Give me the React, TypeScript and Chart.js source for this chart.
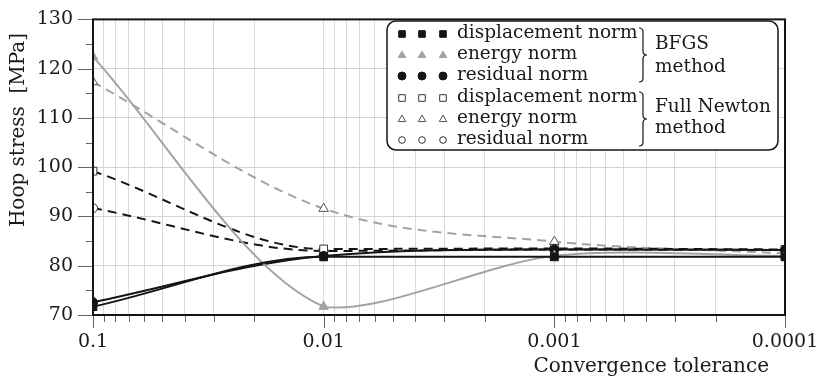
import React, { useEffect, useRef } from 'react';
import { Chart, registerables } from 'chart.js';

Chart.register(...registerables);

// ---- data ----
const tolerances = [0.1, 0.01, 0.001, 0.0001];
const bfgsDisplacement = [71.7, 81.8, 81.8, 81.8];
const bfgsEnergy = [122.4, 71.7, 82.0, 82.0];
const bfgsResidual = [72.6, 82.0, 83.3, 83.2];
const newtonDisplacement = [99.2, 83.4, 83.5, 83.3];
const newtonEnergy = [117.3, 91.6, 84.9, 82.5];
const newtonResidual = [91.7, 83.0, 83.3, 83.2];
const xDecades = [0.1, 0.01, 0.001, 0.0001];
const xDecadeLabels = ['0.1', '0.01', '0.001', '0.0001'];
const yMin = 70;
const yMax = 130;
const legendLabels = ['displacement norm', 'energy norm', 'residual norm', 'displacement norm', 'energy norm', 'residual norm'];
const methodLabels = [['BFGS', 'method'], ['Full Newton', 'method']];
const xTitle = 'Convergence tolerance';
const yTitle = 'Hoop stress  [MPa]';

const FONT = "'DejaVu Serif', serif";
const BLACK = '#151515';
const GRAY = '#a3a3a3';

const pts = (ys: number[]) => ys.map((y, i) => ({ x: tolerances[i], y }));

const minorTicks: number[] = (() => {
  const out: number[] = [];
  for (let n = -4; n <= -2; n++) {
    for (let k = 1; k <= 9; k++) out.push(parseFloat((k * Math.pow(10, n)).toPrecision(6)));
  }
  out.push(0.1);
  return out;
})();

const isDecade = (v: number) => xDecades.some((d) => Math.abs(v - d) / d < 1e-6);

type Marker = { style: string; fill: string; stroke: string };
const markers: Marker[] = [
  { style: 'rect', fill: BLACK, stroke: BLACK },
  { style: 'triangle', fill: GRAY, stroke: GRAY },
  { style: 'circle', fill: BLACK, stroke: BLACK },
  { style: 'rect', fill: '#ffffff', stroke: '#333' },
  { style: 'triangle', fill: '#ffffff', stroke: '#555' },
  { style: 'circle', fill: '#ffffff', stroke: '#333' },
];

function drawMarker(ctx: CanvasRenderingContext2D, m: Marker, x: number, y: number, r: number) {
  ctx.beginPath();
  if (m.style === 'rect') {
    ctx.rect(x - r, y - r, 2 * r, 2 * r);
  } else if (m.style === 'triangle') {
    const h = r * 1.2;
    ctx.moveTo(x, y - h);
    ctx.lineTo(x + h * 0.95, y + h * 0.65);
    ctx.lineTo(x - h * 0.95, y + h * 0.65);
    ctx.closePath();
  } else {
    ctx.arc(x, y, r, 0, Math.PI * 2);
  }
  ctx.fillStyle = m.fill;
  ctx.fill();
  ctx.lineWidth = 1;
  ctx.strokeStyle = m.stroke;
  ctx.stroke();
}

function drawBrace(ctx: CanvasRenderingContext2D, x: number, y1: number, y2: number, w: number) {
  const mid = (y1 + y2) / 2;
  const r = 4;
  const xm = x + w * 0.5;
  ctx.beginPath();
  ctx.moveTo(x, y1);
  ctx.quadraticCurveTo(xm, y1, xm, y1 + r);
  ctx.lineTo(xm, mid - r);
  ctx.quadraticCurveTo(xm, mid, x + w, mid);
  ctx.quadraticCurveTo(xm, mid, xm, mid + r);
  ctx.lineTo(xm, y2 - r);
  ctx.quadraticCurveTo(xm, y2, x, y2);
  ctx.lineWidth = 1.2;
  ctx.strokeStyle = BLACK;
  ctx.stroke();
}

const decorPlugin = {
  id: 'decor',
  afterDraw(chart: any) {
    const ctx: CanvasRenderingContext2D = chart.ctx;
    const { left, right, top, bottom } = chart.chartArea;
    const xs = chart.scales.x;
    const ys = chart.scales.y;
    ctx.save();
    // tick marks
    ctx.strokeStyle = '#666';
    ctx.lineWidth = 1;
    minorTicks.forEach((v) => {
      const px = Math.round(xs.getPixelForValue(v)) + 0.5;
      const len = isDecade(v) ? 13 : 7;
      ctx.beginPath();
      ctx.moveTo(px, bottom);
      ctx.lineTo(px, bottom + len);
      ctx.stroke();
    });
    for (let v = yMin; v <= yMax; v += 5) {
      const py = Math.round(ys.getPixelForValue(v)) + 0.5;
      const len = v % 10 === 0 ? 15 : 7;
      ctx.beginPath();
      ctx.moveTo(left - len, py);
      ctx.lineTo(left, py);
      ctx.stroke();
    }
    // frame
    ctx.strokeStyle = BLACK;
    ctx.lineWidth = 2;
    ctx.strokeRect(left, top, right - left, bottom - top);

    // axis titles
    ctx.fillStyle = '#1a1a1a';
    ctx.font = `20px ${FONT}`;
    ctx.textAlign = 'right';
    ctx.textBaseline = 'middle';
    ctx.fillText(xTitle, right - 16, 367);
    ctx.save();
    ctx.translate(19, 130);
    ctx.rotate(-Math.PI / 2);
    ctx.textAlign = 'center';
    ctx.fillText(yTitle, 0, 0);
    ctx.restore();

    // legend box
    const bx = 387, by = 21, bw = 391, bh = 129, br = 9;
    ctx.beginPath();
    ctx.moveTo(bx + br, by);
    ctx.arcTo(bx + bw, by, bx + bw, by + bh, br);
    ctx.arcTo(bx + bw, by + bh, bx, by + bh, br);
    ctx.arcTo(bx, by + bh, bx, by, br);
    ctx.arcTo(bx, by, bx + bw, by, br);
    ctx.closePath();
    ctx.fillStyle = '#ffffff';
    ctx.fill();
    ctx.lineWidth = 1.5;
    ctx.strokeStyle = BLACK;
    ctx.stroke();

    const rowY = [33, 54, 75, 97, 118, 139];
    const mx = [402, 422, 443];
    ctx.font = `18.5px ${FONT}`;
    ctx.textAlign = 'left';
    ctx.textBaseline = 'middle';
    legendLabels.forEach((lab, i) => {
      mx.forEach((x) => drawMarker(ctx, markers[i], x, rowY[i] + 1, i === 2 ? 4 : 3.3));
      ctx.fillStyle = '#1a1a1a';
      ctx.fillText(lab, 457, rowY[i]);
    });
    drawBrace(ctx, 639, 28, 82, 8);
    drawBrace(ctx, 639, 92, 146, 8);
    ctx.fillStyle = '#1a1a1a';
    ctx.fillText(methodLabels[0][0], 655, 44);
    ctx.fillText(methodLabels[0][1], 655, 67);
    ctx.fillText(methodLabels[1][0], 655, 107);
    ctx.fillText(methodLabels[1][1], 655, 128);
    ctx.restore();
  },
};

export default function App() {
  const ref = useRef<HTMLCanvasElement | null>(null);
  useEffect(() => {
    if (!ref.current) return;
    const mk = (
      label: string,
      data: number[],
      color: string,
      m: Marker,
      dashed: boolean,
      radius: number,
      monotone: boolean
    ) => ({
      label,
      data: pts(data),
      borderColor: color,
      borderWidth: 2,
      borderDash: dashed ? [9, 6] : [],
      pointStyle: m.style,
      pointRadius: radius,
      pointBackgroundColor: m.fill,
      pointBorderColor: m.stroke,
      pointBorderWidth: 1,
      cubicInterpolationMode: monotone ? 'monotone' : 'default',
      tension: monotone ? 0.4 : 0.3,
      fill: false,
    });
    const chart = new Chart(ref.current, {
      type: 'line',
      data: {
        datasets: [
          mk('BFGS displacement norm', bfgsDisplacement, BLACK, markers[0], false, 5.5, true),
          mk('BFGS energy norm', bfgsEnergy, GRAY, markers[1], false, 5.5, false),
          mk('BFGS residual norm', bfgsResidual, BLACK, markers[2], false, 4.5, true),
          mk('Full Newton displacement norm', newtonDisplacement, BLACK, markers[3], true, 5.5, true),
          mk('Full Newton energy norm', newtonEnergy, GRAY, markers[4], true, 5.5, true),
          mk('Full Newton residual norm', newtonResidual, BLACK, markers[5], true, 4.5, true),
        ] as any,
      },
      options: {
        animation: false,
        responsive: false,
        devicePixelRatio: 1,
        layout: { padding: { top: 12, right: 36, left: 0, bottom: 0 } },
        plugins: { legend: { display: false }, tooltip: { enabled: false } },
        scales: {
          x: {
            type: 'logarithmic',
            min: 0.0001,
            max: 0.1,
            reverse: true,
            afterBuildTicks: (scale: any) => {
              scale.ticks = minorTicks.map((v) => ({ value: v, major: isDecade(v) }));
            },
            afterFit: (scale: any) => {
              scale.height = 65;
            },
            grid: {
              color: '#dadada',
              lineWidth: 1,
              drawTicks: true,
              tickLength: 12,
              tickColor: 'rgba(0,0,0,0)',
            },
            border: { display: false },
            ticks: {
              autoSkip: false,
              maxRotation: 0,
              padding: 4,
              color: '#1a1a1a',
              font: { family: FONT, size: 19 },
              callback: (v: any) => {
                const idx = xDecades.findIndex((d) => Math.abs(Number(v) - d) / d < 1e-6);
                return idx >= 0 ? xDecadeLabels[idx] : '';
              },
            },
          },
          y: {
            type: 'linear',
            min: yMin,
            max: yMax,
            afterFit: (scale: any) => {
              scale.width = 93;
            },
            grid: {
              color: (c: any) => (c.tick && c.tick.value % 10 === 0 ? '#d4d4d4' : 'rgba(0,0,0,0)'),
              lineWidth: 1,
              drawTicks: true,
              tickLength: 12,
              tickColor: 'rgba(0,0,0,0)',
            },
            border: { display: false },
            ticks: {
              stepSize: 5,
              autoSkip: false,
              padding: 8,
              color: '#1a1a1a',
              font: { family: FONT, size: 19 },
              callback: (v: any) => (Number(v) % 10 === 0 ? String(v) : ''),
            },
          },
        },
      } as any,
      plugins: [decorPlugin],
    });
    return () => chart.destroy();
  }, []);
  return (
    <div style={{ position: 'absolute', left: 0, top: 0, width: 821, height: 380, background: '#fff' }}>
      <canvas ref={ref} width={821} height={380} />
    </div>
  );
}
